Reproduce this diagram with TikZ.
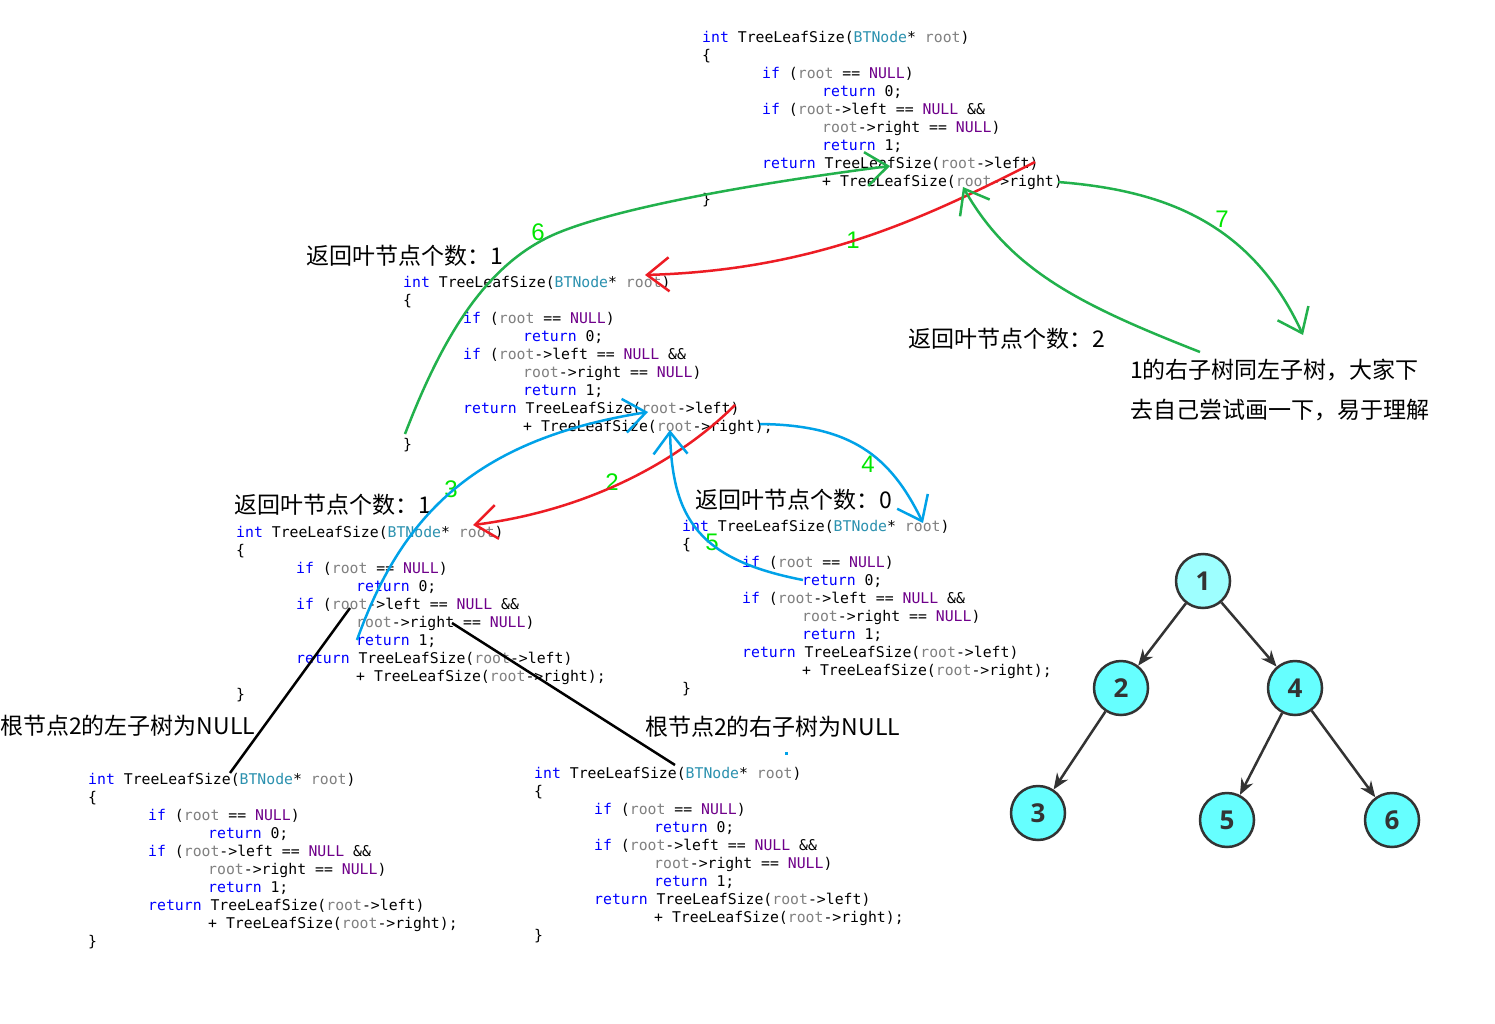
\documentclass[tikz,border=0pt]{standalone}
\usepackage{fontspec}
\usetikzlibrary{arrows.meta}
\setmainfont{Liberation Sans}
\newfontfamily\cjkf{Noto Sans CJK SC}
\newfontfamily\codef{DejaVu Sans Mono}
\newfontfamily\treef{Open Sans}
\definecolor{kwblue}{HTML}{0000FF}
\definecolor{tyteal}{HTML}{2B91AF}
\definecolor{prgray}{HTML}{808080}
\definecolor{nupurple}{HTML}{6F008A}
\definecolor{pred}{HTML}{ED1C24}
\definecolor{pblue}{HTML}{00A2E8}
\definecolor{pgreen}{HTML}{22B14C}
\definecolor{numgreen}{HTML}{00E600}
\definecolor{cyanA}{HTML}{9EFFFF}
\definecolor{cyanB}{HTML}{66FFFF}
\definecolor{treeline}{HTML}{333333}
\newcommand{\ckw}[1]{\textcolor{kwblue}{#1}}
\newcommand{\cty}[1]{\textcolor{tyteal}{#1}}
\newcommand{\cpr}[1]{\textcolor{prgray}{#1}}
\newcommand{\cnu}[1]{\textcolor{nupurple}{#1}}
\tikzset{
  code/.style={anchor=base west, inner sep=0pt, font=\codef\fontsize{14.8}{18}\selectfont},
  cjklabel/.style={anchor=west, inner sep=0pt, font=\cjkf\fontsize{23}{26}\selectfont},
  stepnum/.style={inner sep=0pt, text=numgreen, font=\fontsize{24}{26}\selectfont},
  redarr/.style={draw=pred, line width=2.5pt, -{Straight Barb[length=22pt,width=34pt]}},
  bluearr/.style={draw=pblue, line width=2.5pt, -{Straight Barb[length=22pt,width=34pt]}},
  greenarr/.style={draw=pgreen, line width=2.5pt, -{Straight Barb[length=22pt,width=34pt]}},
  blackline/.style={draw=black, line width=2.5pt},
  treenode/.style={circle, draw=treeline, line width=2.5pt, minimum size=54pt, inner sep=0pt,
    fill=cyanB, text=treeline, font=\treef\bfseries\fontsize{26}{28}\selectfont},
  treeedge/.style={draw=treeline, line width=2.5pt, -{Stealth[length=16pt,width=13pt]}}
}
\newcommand{\codeblk}[4]{%
  \node[code] (#1l0) at (#2,#3+7) {\ckw{int} TreeLeafSize(\cty{BTNode}* \cpr{root})};
  \node[code] (#1l1) at (#2,#3+25) {\{};
  \node[code] (#1l2) at (#2+60,#3+43) {\ckw{if} (\cpr{root} == \cnu{NULL})};
  \node[code] (#1l3) at (#2+120,#3+61) {\ckw{return} 0;};
  \node[code] (#1l4) at (#2+60,#3+79) {\ckw{if} (\cpr{root}->left == \cnu{NULL} \&\&};
  \node[code] (#1l5) at (#2+120,#3+97) {\cpr{root}->right == \cnu{NULL})};
  \node[code] (#1l6) at (#2+120,#3+115) {\ckw{return} 1;};
  \node[code] (#1l7) at (#2+60,#3+133) {\ckw{return} TreeLeafSize(\cpr{root}->left)};
  \node[code] (#1l8) at (#2+120,#3+151) {+ TreeLeafSize(\cpr{root}->right)#4};
  \node[code] (#1l9) at (#2,#3+169) {\}};
}
\begin{document}
\begin{tikzpicture}[x=1pt,y=-1pt]
\fill[white] (0,0) rectangle (1495,1024);
\useasboundingbox (0,0) rectangle (1495,1024);

% code blocks
\codeblk{A}{702}{36}{}
\codeblk{B}{403}{280}{;}
\codeblk{C}{236}{530}{;}
\codeblk{D}{682}{524}{;}
\codeblk{E}{88}{777}{;}
\codeblk{F}{534}{771}{;}

% labels
\node[cjklabel] (L1) at (306,256) {返回叶节点个数：1};
\node[cjklabel] (L2) at (908,339) {返回叶节点个数：2};
\node[cjklabel] (L3) at (234,505) {返回叶节点个数：1};
\node[cjklabel] (L4) at (695,500) {返回叶节点个数：0};
\node[cjklabel] (L5) at (1130,370) {1的右子树同左子树，大家下};
\node[cjklabel] (L6) at (1130,410) {去自己尝试画一下，易于理解};
\node[cjklabel] (L7) at (0,726) {根节点2的左子树为NULL};
\node[cjklabel] (L8) at (645,727) {根节点2的右子树为NULL};

% step numbers
\node[stepnum] (s1) at (853,240) {1};
\node[stepnum] (s2) at (612,482) {2};
\node[stepnum] (s3) at (451,489) {3};
\node[stepnum] (s4) at (868,464) {4};
\node[stepnum] (s5) at (712,542) {5};
\node[stepnum] (s6) at (538,232) {6};
\node[stepnum] (s7) at (1222,219) {7};

% tiny dot
\fill[pblue] (785,752) rectangle (788,755);

% connector end points
\coordinate (r1s) at (1035,162); \coordinate (r1e) at (645,275);
\coordinate (r2s) at (735,405);  \coordinate (r2e) at (473,525);
\coordinate (b3s) at (357,640);  \coordinate (b3e) at (648,412);
\coordinate (b4s) at (760,424);  \coordinate (b4e) at (923,523);
\coordinate (b5s) at (803,580);  \coordinate (b5e) at (670,430);
\coordinate (g6s) at (405,434);  \coordinate (g6m) at (560,232); \coordinate (g6e) at (890,166);
\coordinate (g7s) at (1058,182); \coordinate (g7e) at (1303,335);
\coordinate (g8s) at (1200,352); \coordinate (g8e) at (963,187);
\coordinate (k1s) at (350,608);  \coordinate (k1e) at (230,773);
\coordinate (k2s) at (452,623);  \coordinate (k2e) at (675,765);

% arrows
\draw[redarr] (r1s) .. controls (930,215) and (820,270) .. (r1e);
\draw[redarr] (r2s) .. controls (680,460) and (590,510) .. (r2e);
\draw[bluearr] (b3s) .. controls (400,520) and (470,440) .. (b3e);
\draw[bluearr] (b4s) .. controls (850,425) and (890,455) .. (b4e);
\draw[bluearr] (b5s) .. controls (700,560) and (672,520) .. (b5e);
\draw[greenarr] (g6s) .. controls (445,330) and (490,260) .. (g6m) .. controls (630,204) and (780,180) .. (g6e);
\draw[greenarr] (g7s) .. controls (1160,190) and (1250,220) .. (g7e);
\draw[greenarr] (g8s) .. controls (1080,305) and (1010,270) .. (g8e);
\draw[blackline] (k1s) -- (k1e);
\draw[blackline] (k2s) -- (k2e);

% tree
\node[treenode, fill=cyanA] (n1) at (1203,581) {1};
\node[treenode] (n2) at (1121,688) {2};
\node[treenode] (n4) at (1295,688) {4};
\node[treenode] (n3) at (1038,813) {3};
\node[treenode] (n5) at (1227,820) {5};
\node[treenode] (n6) at (1392,820) {6};
\draw[treeedge] (n1) -- (n2);
\draw[treeedge] (n1) -- (n4);
\draw[treeedge] (n2) -- (n3);
\draw[treeedge] (n4) -- (n5);
\draw[treeedge] (n4) -- (n6);
\end{tikzpicture}
\end{document}
